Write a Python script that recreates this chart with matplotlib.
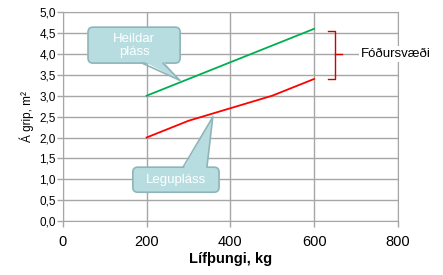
import matplotlib.pyplot as plt
from matplotlib.patches import FancyBboxPatch, Polygon

plt.rcParams['font.family'] = ['Liberation Sans', 'DejaVu Sans']

# data
weight = [200, 300, 400, 500, 600]
heildar = [3.0, 3.4, 3.8, 4.2, 4.6]
legu = [2.0, 2.4, 2.7, 3.0, 3.4]

x_ticks = [0, 200, 400, 600, 800]
y_ticks = [0.0, 0.5, 1.0, 1.5, 2.0, 2.5, 3.0, 3.5, 4.0, 4.5, 5.0]
y_labels = [f"{v:.1f}".replace(".", ",") for v in y_ticks]

box_fc = "#b7dde1"
box_ec = "#8fb5b9"
grid_c = "#a6a6a6"

fig = plt.figure(figsize=(4.43, 2.75), dpi=100)
ax = fig.add_axes([0.142, 0.196, 0.756, 0.760])

ax.plot(weight, heildar, color="#00b050", lw=1.3, zorder=3)
ax.plot(weight, legu, color="#ff0000", lw=1.3, zorder=3)

ax.set_xlim(0, 800)
ax.set_ylim(0, 5)
ax.set_xticks(x_ticks)
ax.set_yticks(y_ticks)
ax.set_yticklabels(y_labels)
ax.grid(True, color=grid_c, lw=1.0)
ax.set_axisbelow(True)
for s in ax.spines.values():
    s.set_color(grid_c)
ax.tick_params(colors=grid_c, labelcolor="black", length=4, width=1.0)
ax.tick_params(axis="x", labelsize=10.5, pad=6)
ax.tick_params(axis="y", labelsize=8.5, pad=1)

ax.set_xlabel("Lífþungi, kg", fontsize=10.5, fontweight="bold", labelpad=2)
ax.set_ylabel("Á grip, m²", fontsize=8.5, labelpad=4)

# px -> data helpers (axes spans 335 x 209 px)
xpp = 800 / 335
ypp = 5 / 209


def callout(x0, y0, x1, y1, base, edge_y, inner_y, tip, text, fs):
    box = FancyBboxPatch((x0, y0), x1 - x0, y1 - y0,
                         boxstyle=f"round,pad=0,rounding_size={5 * xpp}",
                         mutation_aspect=ypp / xpp,
                         fc=box_fc, ec=box_ec, lw=1.2, zorder=5, clip_on=False)
    ax.add_patch(box)
    tri = Polygon([(base[0], inner_y), (base[1], inner_y), tip], closed=True,
                  fc=box_fc, ec="none", zorder=6)
    ax.add_patch(tri)
    for bx in base:
        ax.plot([bx, tip[0]], [edge_y, tip[1]], color=box_ec, lw=1.2, zorder=7,
                solid_capstyle="round")
    ax.text((x0 + x1) / 2, (y0 + y1) / 2, text, ha="center", va="center",
            color="white", fontsize=fs, linespacing=1.1, zorder=8)


callout(60, 3.78, 280, 4.64, (189, 239), 3.78, 3.84, (279, 3.37),
        "Heildar\npláss", 9.5)
callout(167, 0.69, 373, 1.29, (287, 344), 1.29, 1.23, (358, 2.49),
        "Legupláss", 9.5)

# bracket for Fóðursvæði
ax.plot([633, 650, 650, 633], [4.55, 4.55, 3.40, 3.40],
        color="#d00000", lw=1.0, zorder=4, clip_on=False)
ax.plot([650, 666], [4.0, 4.0], color="#d00000", lw=1.0, zorder=4)
ax.text(712, 4.0, "Fóðursvæði", ha="left", va="center", fontsize=9.5,
        bbox=dict(fc="white", ec="none", pad=1.5), zorder=9, clip_on=False)

fig.savefig("out.png", dpi=100)
